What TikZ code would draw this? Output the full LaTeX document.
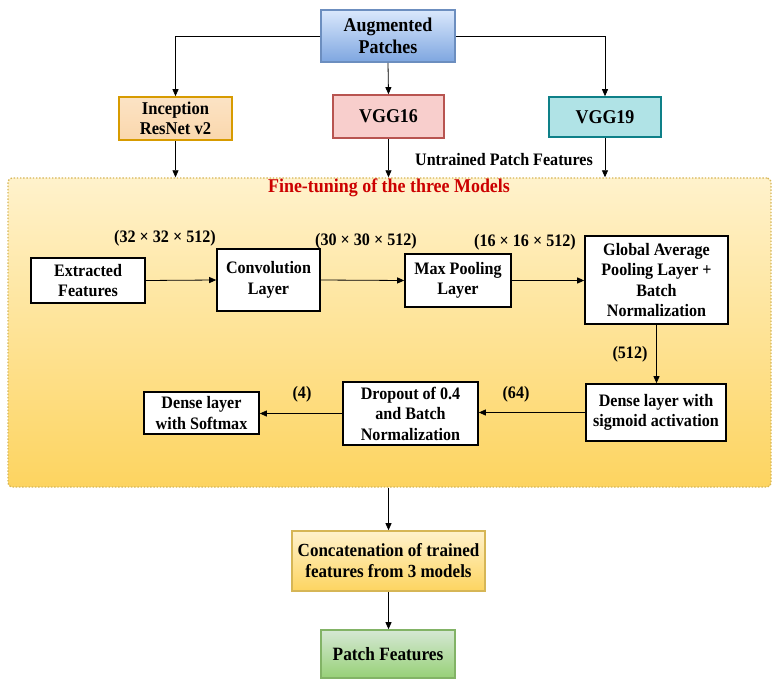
\documentclass[tikz,border=0pt]{standalone}
\usepackage{fontspec}
\setmainfont{Liberation Serif}[FakeStretch=0.92]
\usetikzlibrary{arrows.meta}
\definecolor{bluefillA}{HTML}{DAE8FC}
\definecolor{bluefillB}{HTML}{7EA6E0}
\definecolor{blueline}{HTML}{6C8EBF}
\definecolor{orangefill}{HTML}{FAD7AC}
\definecolor{orangeline}{HTML}{D79B00}
\definecolor{redfill}{HTML}{F8CECC}
\definecolor{redline}{HTML}{B85450}
\definecolor{tealfill}{HTML}{B0E3E6}
\definecolor{tealline}{HTML}{0E8088}
\definecolor{yelA}{HTML}{FFF2CC}
\definecolor{yelB}{HTML}{FDD460}
\definecolor{yelline}{HTML}{D6B656}
\definecolor{greenA}{HTML}{D5E8D4}
\definecolor{greenB}{HTML}{97D077}
\definecolor{greenline}{HTML}{82B366}
\definecolor{titlered}{HTML}{CC0000}
\begin{document}
\begin{tikzpicture}[x=1pt,y=-1pt,
  lbl/.style={font=\fontsize{17.5}{20.5}\selectfont\bfseries, align=center, inner sep=0pt},
  box/.style={lbl, rectangle, draw=black, line width=1.6pt, fill=white},
  topbox/.style={lbl, rectangle, line width=1.6pt},
  arr/.style={-{Triangle[length=7pt,width=6pt]}, line width=0.8pt, black}]
\useasboundingbox (0,0) rectangle (781,684);
% container
\node[rectangle, rounded corners=4pt, draw=yelline, line width=1.4pt, dash pattern=on 1.4pt off 1.8pt,
      top color=yelA, bottom color=yelB, minimum width=763pt, minimum height=309pt,
      inner sep=0pt] (ft) at (389.5,332.5) {};
\node[lbl, text=titlered, font=\fontsize{19.5}{22}\selectfont\bfseries] (title) at (389,188) {Fine-tuning of the three Models};
% top boxes
\node[topbox, draw=blueline, top color=bluefillA, bottom color=bluefillB,
      minimum width=134pt, minimum height=52pt, font=\fontsize{19.5}{22}\selectfont\bfseries] (aug) at (388,36) {Augmented\\Patches};
\node[topbox, draw=orangeline, top color=orangefill!70, bottom color=orangefill,
      minimum width=113pt, minimum height=43pt, font=\fontsize{18}{20.5}\selectfont\bfseries] (inc) at (175.5,118.5) {Inception\\ResNet v2};
\node[topbox, draw=redline, fill=redfill, minimum width=111pt, minimum height=43pt,
      font=\fontsize{19.5}{22}\selectfont\bfseries] (v16) at (388.5,116.5) {VGG16};
\node[topbox, draw=tealline, fill=tealfill, minimum width=112pt, minimum height=40pt,
      font=\fontsize{19.5}{22}\selectfont\bfseries] (v19) at (605,117) {VGG19};
\node[lbl] (untr) at (504,160) {Untrained Patch Features};
% inner boxes
\node[box, minimum width=114pt, minimum height=45pt] (ef) at (88,280.5) {Extracted\\Features};
\node[box, minimum width=103pt, minimum height=62pt] (conv) at (268.5,280) {Convolution\\Layer};
\node[box, minimum width=106pt, minimum height=53pt] (mp) at (458,280.5) {Max Pooling\\Layer};
\node[box, minimum width=143pt, minimum height=88pt] (gap) at (656.5,280) {Global Average\\Pooling Layer +\\Batch\\Normalization};
\node[box, minimum width=140pt, minimum height=57pt] (ds) at (656,412.5) {Dense layer with\\sigmoid activation};
\node[box, minimum width=135pt, minimum height=63pt] (dr) at (410.5,413.5) {Dropout of 0.4\\and Batch\\Normalization};
\node[box, minimum width=115pt, minimum height=42pt] (sm) at (201.5,413) {Dense layer\\with Softmax};
% dimension labels
\node[lbl] (d1) at (165,238) {(32 × 32 × 512)};
\node[lbl] (d2) at (366,241) {(30 × 30 × 512)};
\node[lbl] (d3) at (525,242) {(16 × 16 × 512)};
\node[lbl] (d4) at (630,354) {(512)};
\node[lbl] (d5) at (516,394) {(64)};
\node[lbl] (d6) at (302,394) {(4)};
% bottom boxes
\node[topbox, draw=yelline, top color=yelA, bottom color=yelB, minimum width=193pt, minimum height=60pt,
      font=\fontsize{18.5}{21}\selectfont\bfseries] (cat) at (388.5,561) {Concatenation of trained\\features from 3 models};
\node[topbox, draw=greenline, top color=greenA, bottom color=greenB, minimum width=134pt, minimum height=48pt,
      font=\fontsize{18.8}{21}\selectfont\bfseries] (pf) at (388,654) {Patch Features};
% connectors
\draw[arr] (aug.west) -| (inc.north);
\draw[arr] (aug.east) -| (v19.north);
\draw[arr] (aug.south) -- (v16.north);
\draw[arr] (inc.south) -- (inc.south |- ft.north);
\draw[arr] (v16.south) -- (v16.south |- ft.north);
\draw[arr] (v19.south) -- (v19.south |- ft.north);
\draw[arr] (ef.east) -- (conv.west);
\draw[arr] (conv.east) -- (mp.west);
\draw[arr] (mp.east) -- (gap.west |- mp.east);
\draw[arr] (gap.south) -- (gap.south |- ds.north);
\draw[arr] (ds.west) -- (dr.east |- ds.west);
\draw[arr] (dr.west) -- (sm.east |- dr.west);
\draw[arr] (cat.north |- ft.south) -- (cat.north);
\draw[arr] (cat.south) -- (pf.north -| cat.south);
\end{tikzpicture}
\end{document}
